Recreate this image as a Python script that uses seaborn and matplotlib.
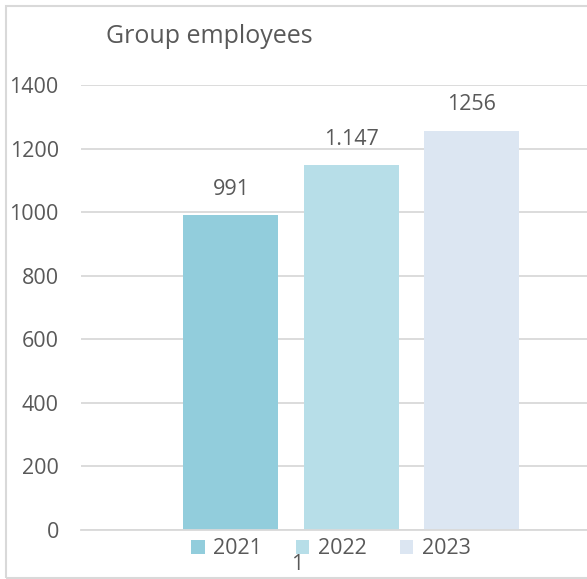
import matplotlib
matplotlib.use("Agg")
import matplotlib.pyplot as plt
import seaborn as sns
import pandas as pd
from matplotlib.patches import Rectangle

# ---- data ----
years = ["2021", "2022", "2023"]
employees = [991, 1147, 1256]
value_labels = ["991", "1.147", "1256"]
category = ["1", "1", "1"]
yticks = [0, 200, 400, 600, 800, 1000, 1200, 1400]
title = "Group employees"

colors = ["#92CDDC", "#B7DEE8", "#DCE6F2"]
text_color = "#595959"
grid_color = "#D9D9D9"

sns.set_theme(style="white")
plt.rcParams["font.family"] = ["Open Sans", "DejaVu Sans"]

df = pd.DataFrame({"cat": category, "year": years, "value": employees})

W, H = 587, 579
fig = plt.figure(figsize=(W / 100, H / 100), dpi=100)
ax = fig.add_axes([81 / W, 49 / H, (W - 81) / W, (530 - 85) / H])

sns.barplot(data=df, x="cat", y="value", hue="year", hue_order=years,
            palette=colors, width=0.8, gap=0.21, ax=ax, saturation=1,
            legend=True, errorbar=None, linewidth=0, edgecolor="none")

ax.set_ylim(0, 1400)
ax.set_xlim(-0.599, 0.523)
ax.set_yticks(yticks)
ax.set_yticklabels([str(t) for t in yticks])
ax.set_xticks([-0.12])
ax.set_xticklabels(["1"])
ax.set_xlabel("")
ax.set_ylabel("")
ax.tick_params(axis="y", length=0, pad=16, labelsize=15.5, labelcolor=text_color)
ax.tick_params(axis="x", length=0, pad=17, labelsize=15.5, labelcolor=text_color)
for s in ["top", "right", "left"]:
    ax.spines[s].set_visible(False)
ax.spines["bottom"].set_color(grid_color)
ax.spines["bottom"].set_linewidth(1.3)
ax.yaxis.grid(True, color=grid_color, linewidth=1.3)
ax.set_axisbelow(True)

for cont, lab in zip(ax.containers, value_labels):
    ax.bar_label(cont, labels=[lab], padding=11, fontsize=15.5, color=text_color)

leg = ax.legend(loc="center", bbox_to_anchor=(331 / W, 1 - 549 / H),
                bbox_transform=fig.transFigure, ncol=3, frameon=False,
                handlelength=0.62, handleheight=0.62, handletextpad=0.4,
                columnspacing=1.55, fontsize=15.5)
for t in leg.get_texts():
    t.set_color(text_color)

fig.text(106 / W, 1 - 43 / H, title, fontsize=18, color=text_color,
         ha="left", va="baseline")

fig.patches.append(Rectangle((6 / W, 1 / H), 1.2, 1 - 6 / H - 1 / H,
                             transform=fig.transFigure, fill=False,
                             edgecolor=grid_color, linewidth=1.5))

fig.savefig("out.png", dpi=100)
